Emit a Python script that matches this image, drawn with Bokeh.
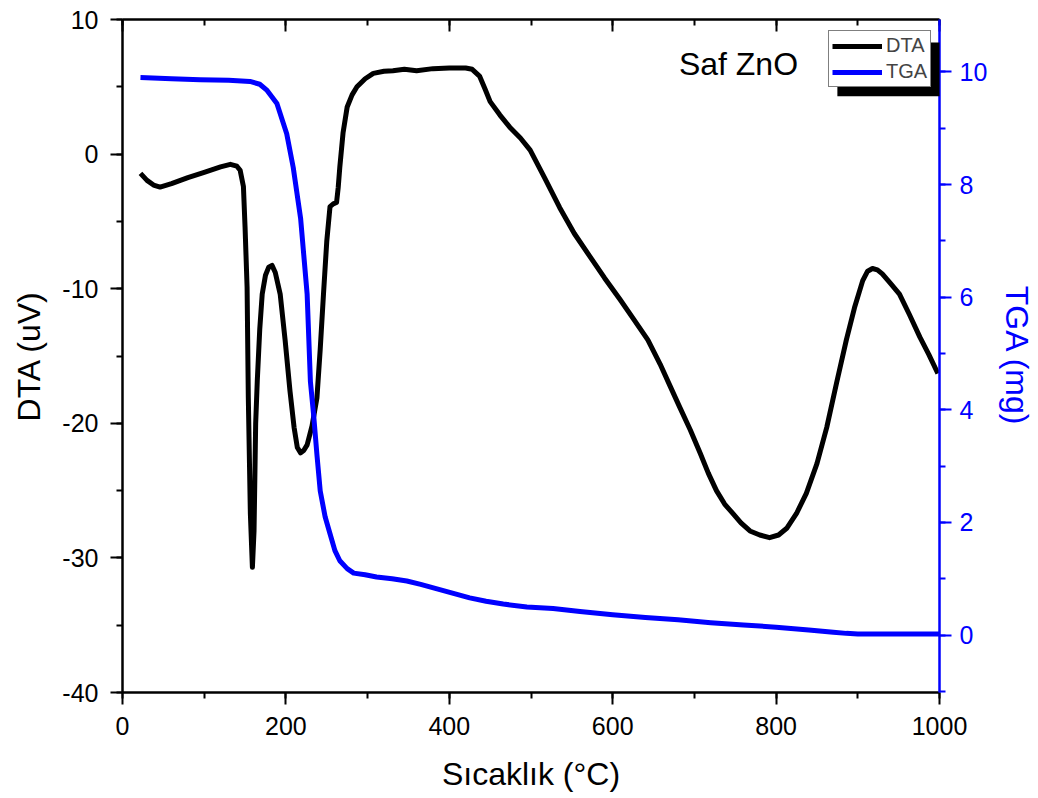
from bokeh.plotting import figure
from bokeh.models import (Range1d, LinearAxis, Legend, LegendItem, BoxAnnotation,
                          Label, SingleIntervalTicker, CustomJSTickFormatter)
from bokeh.embed import file_html
from bokeh.resources import INLINE

# ---------------- data ----------------
dta_T = [22, 30, 38, 46, 60, 80, 100, 120, 132, 140, 144, 148, 150, 152.5, 154, 156.5,
         159, 161, 163, 165, 168, 171, 175, 179, 183, 187, 193, 199, 205, 210, 214, 218,
         222, 226, 232, 238, 242, 246, 250, 254, 258, 262, 264, 266, 270, 275, 281, 287,
         297, 307, 320, 331, 345, 360, 380, 400, 420, 428, 437, 444, 450, 462, 474, 487,
         499, 517, 535, 553, 572, 590, 609, 626, 643, 658, 670, 682, 695, 707, 717, 727,
         737, 747, 757, 768, 780, 792, 803, 813, 825, 837, 850, 862, 874, 886, 896, 906,
         912, 918, 924, 930, 940, 951, 963, 976, 987, 998]
dta_uV = [-1.43, -1.95, -2.3, -2.45, -2.2, -1.75, -1.35, -0.95, -0.76, -0.9, -1.2, -2.4,
          -5.4, -9.9, -18.1, -26.7, -30.7, -28.0, -20.0, -16.8, -13.0, -10.4, -9.0, -8.4,
          -8.27, -8.8, -10.4, -13.8, -17.6, -20.3, -21.8, -22.2, -22.0, -21.6, -20.2,
          -18.1, -14.5, -10.4, -6.5, -3.9, -3.7, -3.6, -2.5, -0.96, 1.6, 3.5, 4.4, 5.0,
          5.6, 6.0, 6.15, 6.2, 6.3, 6.2, 6.35, 6.4, 6.4, 6.3, 5.8, 4.8, 3.9, 2.9, 2.0, 1.2,
          0.3, -1.8, -3.96, -5.9, -7.6, -9.2, -10.8, -12.3, -13.8, -15.6, -17.2, -18.8,
          -20.5, -22.2, -23.7, -25.0, -26.0, -26.7, -27.4, -28.0, -28.3, -28.5, -28.3,
          -27.8, -26.7, -25.2, -23.0, -20.3, -17.0, -13.8, -11.4, -9.4, -8.7, -8.5, -8.6,
          -8.9, -9.6, -10.4, -11.9, -13.6, -14.9, -16.3]

tga_T = [22, 60, 95, 130, 156, 168, 177, 189, 201, 209, 218, 226, 230, 234, 238, 242,
         248, 254, 260, 266, 275, 283, 297, 311, 330, 348, 365, 385, 405, 425, 445, 466,
         495, 527, 560, 600, 640, 680, 720, 760, 800, 840, 870, 886, 900, 950, 1000]
tga_mg = [9.9, 9.88, 9.86, 9.85, 9.83, 9.78, 9.67, 9.44, 8.9, 8.3, 7.4, 6.05, 4.5, 3.9,
          3.2, 2.56, 2.1, 1.8, 1.5, 1.32, 1.18, 1.1, 1.07, 1.03, 1.0, 0.96, 0.9, 0.82,
          0.74, 0.66, 0.6, 0.55, 0.5, 0.47, 0.42, 0.36, 0.31, 0.27, 0.22, 0.18, 0.14,
          0.09, 0.05, 0.03, 0.02, 0.02, 0.02]

series_names = ["DTA", "TGA"]
x_title = "Sıcaklık (°C)"
y_left_title = "DTA (uV)"
y_right_title = "TGA (mg)"
sample_label = "Saf ZnO"

# ---------------- figure ----------------
FONT = "Liberation Sans"
BLUE = "#0000FF"

p = figure(width=1038, height=798, output_backend="svg", toolbar_location=None,
           x_range=Range1d(0, 1000), y_range=Range1d(-40, 10),
           x_axis_location=None, y_axis_location=None,
           min_border_left=122, min_border_right=98, min_border_top=19,
           min_border_bottom=106)
p.outline_line_color = None
p.background_fill_color = "white"
p.border_fill_color = "white"
p.extra_y_ranges = {"tga": Range1d(-1.02, 10.93)}

plain_fmt = CustomJSTickFormatter(code="return tick.toString();")


def style(ax, color="black", out=True):
    ax.axis_line_color = color
    ax.axis_line_width = 2.5
    ax.major_tick_line_color = color
    ax.minor_tick_line_color = color
    ax.major_tick_line_width = 2
    ax.minor_tick_line_width = 2
    if out:
        ax.major_tick_out, ax.major_tick_in = 12, 0
        ax.minor_tick_out, ax.minor_tick_in = 6, 0
    else:
        ax.major_tick_out, ax.major_tick_in = 0, 12
        ax.minor_tick_out, ax.minor_tick_in = 0, 6
    ax.formatter = plain_fmt
    ax.major_label_text_font = FONT
    ax.major_label_text_font_size = "25px"
    ax.major_label_text_color = color
    ax.axis_label_text_font = FONT
    ax.axis_label_text_font_size = "32px"
    ax.axis_label_text_font_style = "normal"
    ax.axis_label_text_color = color


xb = LinearAxis(ticker=SingleIntervalTicker(interval=200, num_minor_ticks=2),
                axis_label=x_title)
style(xb)
xb.major_label_standoff = 12
xb.axis_label_standoff = 18
p.add_layout(xb, "below")

xt = LinearAxis(ticker=SingleIntervalTicker(interval=200, num_minor_ticks=2))
style(xt, out=False)
xt.formatter = CustomJSTickFormatter(code="return '';")
xt.major_label_standoff = 0
p.add_layout(xt, "above")

yl = LinearAxis(ticker=SingleIntervalTicker(interval=10, num_minor_ticks=2),
                axis_label=y_left_title)
style(yl)
yl.major_label_standoff = 12
yl.axis_label_standoff = 12
p.add_layout(yl, "left")

yr = LinearAxis(y_range_name="tga",
                ticker=SingleIntervalTicker(interval=2, num_minor_ticks=2),
                axis_label=y_right_title)
style(yr, color=BLUE)
yr.major_label_standoff = 8
yr.axis_label_standoff = 9
p.add_layout(yr, "right")

p.grid.visible = False

r_dta = p.line(dta_T, dta_uV, line_color="black", line_width=5, line_join="round")
r_tga = p.line(tga_T, tga_mg, y_range_name="tga", line_color=BLUE, line_width=5,
               line_join="round")

# legend shadow then legend
shadow = BoxAnnotation(left=875, right=1002, top=8.3, bottom=4.3,
                       fill_color="black", fill_alpha=1.0, line_color=None)
p.add_layout(shadow)

legend = Legend(items=[LegendItem(label=series_names[0], renderers=[r_dta]),
                       LegendItem(label=series_names[1], renderers=[r_tga])],
                location=(706, 605), margin=0, padding=3, spacing=3,
                glyph_width=50, glyph_height=22, label_height=22,
                label_standoff=4, label_text_font=FONT, label_text_font_size="20px",
                border_line_color="black", border_line_width=1,
                background_fill_color="white", background_fill_alpha=1.0)
p.add_layout(legend)

p.add_layout(Label(x=681, y=6.67, text=sample_label, text_font=FONT,
                   text_font_size="32px", text_color="black",
                   text_baseline="alphabetic"))

open("out.html", "w").write(file_html(p, INLINE))
